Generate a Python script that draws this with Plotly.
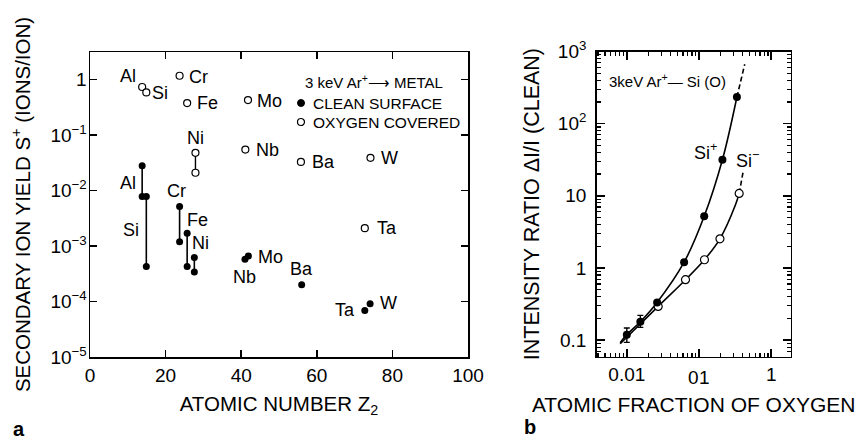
import numpy as np
import pandas as pd
import plotly.graph_objects as go

FONT = "Liberation Sans, Arial, Helvetica, sans-serif"

# ---------------- Panel a data ----------------
clean_Z = [13.8, 13.8, 14.9, 14.9, 23.7, 23.7, 25.7, 25.7, 27.6, 27.6, 41.0, 41.9, 56.0, 72.7, 74.1]
clean_S = [0.028, 0.0078, 0.0078, 4.3e-4, 0.0052, 0.0012, 0.0017, 4.3e-4, 6.2e-4, 3.4e-4,
           5.8e-4, 6.6e-4, 2.0e-4, 6.9e-5, 9.1e-5]
clean_el = ["Al", "Al", "Si", "Si", "Cr", "Cr", "Fe", "Fe", "Ni", "Ni", "Nb", "Mo", "Ba", "Ta", "W"]

oxy_Z = [13.8, 14.9, 23.7, 25.7, 27.9, 27.9, 41.1, 41.8, 55.8, 72.7, 74.2]
oxy_S = [0.74, 0.59, 1.18, 0.38, 0.048, 0.021, 0.055, 0.43, 0.033, 0.0021, 0.039]
oxy_el = ["Al", "Si", "Cr", "Fe", "Ni", "Ni", "Nb", "Mo", "Ba", "Ta", "W"]

ya_ticks = [1e-5, 1e-4, 1e-3, 1e-2, 1e-1, 1]
ya_text = ["10<sup>−5</sup>", "10<sup>−4</sup>", "10<sup>−3</sup>", "10<sup>−2</sup>", "10<sup>−1</sup>", "1"]
xa_ticks = [0, 20, 40, 60, 80, 100]

# ---------------- Panel b data ----------------
frac_plus = [0.01, 0.0154, 0.0263, 0.0622, 0.118, 0.211, 0.335]
ratio_plus = [0.119, 0.18, 0.333, 1.2, 5.2, 31.6, 234]
err_frac = [0.01, 0.0154]
err_val = [0.119, 0.18]
err_hi = [0.028, 0.04]
err_lo = [0.026, 0.03]

frac_minus = [0.0272, 0.065, 0.119, 0.195, 0.36]
ratio_minus = [0.293, 0.687, 1.30, 2.53, 10.8]

curve_plus_x = [0.0081, 0.01, 0.0154, 0.0263, 0.0622, 0.118, 0.211, 0.335]
curve_plus_y = [0.092, 0.119, 0.18, 0.333, 1.2, 5.2, 31.6, 234]
dash_plus_x = [0.335, 0.43]
dash_plus_y = [234, 665]

curve_minus_x = [0.0081, 0.0272, 0.065, 0.119, 0.195, 0.32, 0.36]
curve_minus_y = [0.089, 0.293, 0.687, 1.30, 2.53, 7.5, 10.8]
dash_minus_x = [0.36, 0.41]
dash_minus_y = [10.8, 22]

yb_ticks = [0.1, 1, 10, 100, 1000]
yb_text = ["0.1", "1", "10", "10<sup>2</sup>", "10<sup>3</sup>"]
xb_ticks = [0.01, 0.1, 1]
xb_text = ["0.01", "", "1"]
xb_mid_label = "01"   # the middle tick label as printed in the original figure

xb_minor = [m * 10.0 ** e for e in range(-3, 1) for m in range(2, 10)]
yb_minor = [m * 10.0 ** e for e in range(-2, 3) for m in range(2, 10)]

fig = go.Figure()

dfc = pd.DataFrame({"Z": clean_Z, "S": clean_S, "el": clean_el})
for el, g in dfc.groupby("el", sort=False):
    fig.add_trace(go.Scatter(x=g["Z"], y=g["S"], mode="lines+markers",
                             line=dict(color="black", width=1.6),
                             marker=dict(symbol="circle", size=7, color="black"),
                             xaxis="x", yaxis="y", showlegend=False, hoverinfo="skip"))
dfo = pd.DataFrame({"Z": oxy_Z, "S": oxy_S, "el": oxy_el})
for el, g in dfo.groupby("el", sort=False):
    fig.add_trace(go.Scatter(x=g["Z"], y=g["S"], mode="lines+markers",
                             line=dict(color="black", width=1.4),
                             marker=dict(symbol="circle", size=7, color="white",
                                         line=dict(color="black", width=1.2)),
                             xaxis="x", yaxis="y", showlegend=False, hoverinfo="skip"))

fig.add_trace(go.Scatter(x=curve_plus_x, y=curve_plus_y, mode="lines", line=dict(color="black", width=1.6, shape="spline"),
                         xaxis="x2", yaxis="y2", showlegend=False))
fig.add_trace(go.Scatter(x=dash_plus_x, y=dash_plus_y, mode="lines", line=dict(color="black", width=1.6, dash="5px,3px"),
                         xaxis="x2", yaxis="y2", showlegend=False))
fig.add_trace(go.Scatter(x=curve_minus_x, y=curve_minus_y, mode="lines", line=dict(color="black", width=1.6, shape="spline"),
                         xaxis="x2", yaxis="y2", showlegend=False))
fig.add_trace(go.Scatter(x=dash_minus_x, y=dash_minus_y, mode="lines", line=dict(color="black", width=1.6, dash="5px,3px"),
                         xaxis="x2", yaxis="y2", showlegend=False))
fig.add_trace(go.Scatter(x=frac_minus, y=ratio_minus, mode="markers",
                         marker=dict(symbol="circle", size=8, color="white", line=dict(color="black", width=1.2)),
                         xaxis="x2", yaxis="y2", showlegend=False))
fig.add_trace(go.Scatter(x=err_frac, y=err_val, mode="markers", marker=dict(size=1, color="rgba(0,0,0,0)"),
                         error_y=dict(type="data", array=err_hi, arrayminus=err_lo, color="black", thickness=1.4, width=3),
                         xaxis="x2", yaxis="y2", showlegend=False))
fig.add_trace(go.Scatter(x=frac_plus, y=ratio_plus, mode="markers",
                         marker=dict(symbol="circle", size=8, color="black"),
                         xaxis="x2", yaxis="y2", showlegend=False))

ann = []
def lab(text, x, y, dx, dy, ax="x", ay="y", xlog=False, size=18):
    ann.append(dict(text=text, x=(np.log10(x) if xlog else x), y=np.log10(y), xref=ax, yref=ay,
                    xshift=dx, yshift=dy, showarrow=False, xanchor="center", yanchor="middle",
                    font=dict(family=FONT, size=size, color="black")))

lab("Al", oxy_Z[0], oxy_S[0], -14, 11)
lab("Si", oxy_Z[1], oxy_S[1], 14, -1)
lab("Cr", oxy_Z[2], oxy_S[2], 19, -1)
lab("Fe", oxy_Z[3], oxy_S[3], 20, 0)
lab("Ni", oxy_Z[4], oxy_S[4], 0, 15)
lab("Nb", oxy_Z[6], oxy_S[6], 22, 0)
lab("Mo", oxy_Z[7], oxy_S[7], 21, -1)
lab("Ba", oxy_Z[8], oxy_S[8], 23, 0)
lab("Ta", oxy_Z[9], oxy_S[9], 22, 0)
lab("W", oxy_Z[10], oxy_S[10], 19, 0)
lab("Al", clean_Z[0], clean_S[0], -14, -17)
lab("Si", clean_Z[3], clean_S[3], -15, 36)
lab("Cr", clean_Z[4], clean_S[4], -3, 15)
lab("Fe", clean_Z[6], clean_S[6], 10, 13)
lab("Ni", clean_Z[8], clean_S[8], 6, 15)
lab("Nb", clean_Z[10], clean_S[10], 0, -18)
lab("Mo", clean_Z[11], clean_S[11], 22, -1)
lab("Ba", clean_Z[12], clean_S[12], 0, 16)
lab("Ta", clean_Z[13], clean_S[13], -20, 0)
lab("W", clean_Z[14], clean_S[14], 18, 1)
lab("Si<sup>+</sup>", frac_plus[5], ratio_plus[5], -17, 8, "x2", "y2", xlog=True)
lab("Si<sup>−</sup>", frac_minus[4], ratio_minus[4], 8, 34, "x2", "y2", xlog=True)

W, H = 860, 440
def px(x): return x / W
def py(y): return 1 - y / H

# middle tick label of the oxygen-fraction axis, set glyph by glyph under its tick
for ch, sh in zip(xb_mid_label, [-5.3, 5.3]):
    ann.append(dict(text=ch, x=np.log10(xb_ticks[1]), xref="x2", xshift=sh, y=py(377), yref="paper",
                    xanchor="center", yanchor="middle", showarrow=False,
                    font=dict(family=FONT, size=19, color="black")))

ann.append(dict(text="3 keV Ar<sup>+</sup>⟶ METAL", x=px(303), y=py(81), xref="paper", yref="paper",
                xanchor="left", yanchor="middle", showarrow=False, font=dict(family=FONT, size=15, color="black")))
ann.append(dict(text="CLEAN SURFACE", x=px(311), y=py(103), xref="paper", yref="paper",
                xanchor="left", yanchor="middle", showarrow=False, font=dict(family=FONT, size=15.5, color="black")))
ann.append(dict(text="OXYGEN COVERED", x=px(311), y=py(122), xref="paper", yref="paper",
                xanchor="left", yanchor="middle", showarrow=False, font=dict(family=FONT, size=15.5, color="black")))
ann.append(dict(text="3keV Ar<sup>+</sup>— Si (O)", x=px(607), y=py(80), xref="paper", yref="paper",
                xanchor="left", yanchor="middle", showarrow=False, font=dict(family=FONT, size=15, color="black")))
ann.append(dict(text="<b>a</b>", x=px(11), y=py(429), xref="paper", yref="paper",
                xanchor="left", yanchor="middle", showarrow=False, font=dict(family=FONT, size=20, color="black")))
ann.append(dict(text="<b>b</b>", x=px(522), y=py(427), xref="paper", yref="paper",
                xanchor="left", yanchor="middle", showarrow=False, font=dict(family=FONT, size=20, color="black")))

shapes = [
    dict(type="circle", xref="paper", yref="paper", x0=px(297.5), x1=px(304.5), y0=py(106.5), y1=py(99.5),
         fillcolor="black", line=dict(color="black", width=1)),
    dict(type="circle", xref="paper", yref="paper", x0=px(297.5), x1=px(304.5), y0=py(125.5), y1=py(118.5),
         fillcolor="white", line=dict(color="black", width=1.2)),
]

axis_common = dict(showline=True, linecolor="black", linewidth=1.5, mirror="ticks", ticks="inside",
                   tickcolor="black", tickwidth=1.5, showgrid=False, zeroline=False,
                   tickfont=dict(family=FONT, size=19, color="black"), automargin=False)

fig.update_layout(
    width=W, height=H, autosize=False,
    margin=dict(l=0, r=0, t=0, b=0),
    paper_bgcolor="white", plot_bgcolor="white",
    font=dict(family=FONT, color="black"),
    showlegend=False, hovermode=False,
    xaxis=dict(domain=[px(90), px(468)], anchor="y", range=[0, 100], tickmode="array", tickvals=xa_ticks,
               ticklen=7, ticklabelstandoff=1,
               title=dict(text="ATOMIC NUMBER Z<sub>2</sub>", font=dict(family=FONT, size=20.5), standoff=11),
               **axis_common),
    yaxis=dict(domain=[py(357), py(52)], anchor="x", type="log", range=[-5, 0.5], tickmode="array",
               tickvals=ya_ticks, ticktext=ya_text, ticklen=7, ticklabelstandoff=-2,
               title=dict(text="SECONDARY ION YIELD S<sup>+</sup> (IONS/ION)", font=dict(family=FONT, size=20.5), standoff=14),
               **axis_common),
    xaxis2=dict(domain=[px(596.7), px(790.7)], anchor="y2", type="log", range=[-2.417, 0.27], tickmode="array",
                tickvals=xb_ticks, ticktext=xb_text, ticklen=8, ticklabelstandoff=0,
                minor=dict(ticks="inside", ticklen=4, tickwidth=1.2, tickcolor="black",
                           tickmode="array", tickvals=xb_minor, showgrid=False),
                title=dict(text="ATOMIC FRACTION OF OXYGEN", font=dict(family=FONT, size=21), standoff=13),
                **axis_common),
    yaxis2=dict(domain=[py(356.7), py(51.5)], anchor="x2", type="log", range=[-1.23, 3], tickmode="array",
                tickvals=yb_ticks, ticktext=yb_text, ticklen=8, ticklabelstandoff=5,
                minor=dict(ticks="inside", ticklen=4, tickwidth=1.2, tickcolor="black",
                           tickmode="array", tickvals=yb_minor, showgrid=False),
                title=dict(text="INTENSITY RATIO ΔI/I (CLEAN)", font=dict(family=FONT, size=21.5), standoff=12),
                **axis_common),
    annotations=ann,
    shapes=shapes,
)

fig.write_html("out.html", config={"displayModeBar": False, "staticPlot": True},
               post_script="document.body.style.margin='0';document.body.style.overflow='hidden';")
